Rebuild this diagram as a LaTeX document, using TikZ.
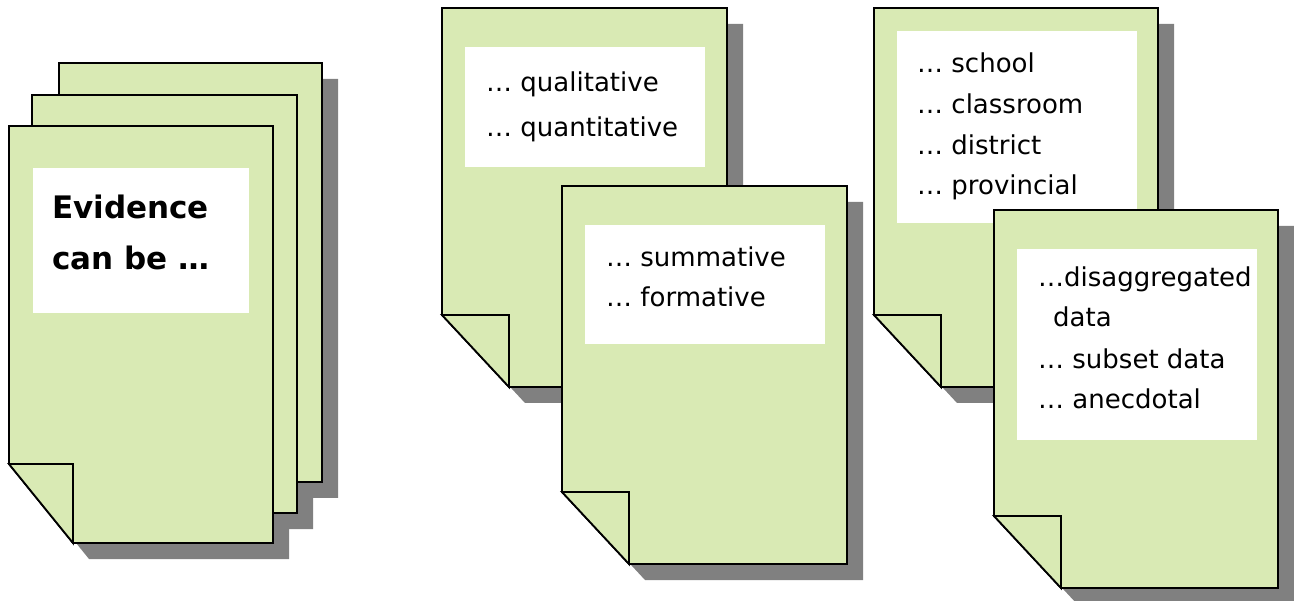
\documentclass[tikz,border=0pt]{standalone}
\usepackage{fontspec}
\setmainfont{DejaVu Sans}
\definecolor{pagegreen}{HTML}{D9EAB4}
\definecolor{shadowgray}{HTML}{808080}
\tikzset{
  pagestyle/.style={fill=pagegreen, draw=black, line width=1.8pt, line join=miter},
  shadowstyle/.style={fill=shadowgray},
  whitebox/.style={fill=white},
  itemtext/.style={anchor=base west, inner sep=0pt, font=\fontsize{26}{30}\selectfont},
  titletext/.style={anchor=base west, inner sep=0pt, font=\fontsize{31}{36}\selectfont\bfseries},
}
% #1=L #2=T #3=R #4=B #5=fold x #6=fold y
\newcommand{\docshadow}[6]{%
  \begin{scope}[shift={(16,16)}]
    \fill[shadowstyle] (#1,#2) -- (#3,#2) -- (#3,#4) -- (#5,#4) -- (#1,#6) -- cycle;
  \end{scope}}
\newcommand{\docpage}[6]{%
  \filldraw[pagestyle] (#1,#2) -- (#3,#2) -- (#3,#4) -- (#5,#4) -- (#1,#6) -- cycle;
  \filldraw[pagestyle] (#1,#6) -- (#5,#6) -- (#5,#4) -- cycle;}
\begin{document}
\begin{tikzpicture}[x=1pt,y=-1pt]
\useasboundingbox (0,0) rectangle (1294,601);

% ---------- left stack (one shape, one shadow) ----------
\docshadow{59}{63}{322}{482}{123}{403}
\docshadow{32}{95}{297}{513}{96}{434}
\docshadow{9}{126}{273}{543}{73}{464}
\docpage{59}{63}{322}{482}{123}{403}
\docpage{32}{95}{297}{513}{96}{434}
\docpage{9}{126}{273}{543}{73}{464}
\fill[whitebox] (33,168) rectangle (249,313);
\node[titletext] (ev1) at (52,219) {Evidence};
\node[titletext] (ev2) at (52,270) {can be …};

% ---------- middle group ----------
\docshadow{442}{8}{727}{387}{509}{315}
\docpage{442}{8}{727}{387}{509}{315}
\fill[whitebox] (465,47) rectangle (705,167);
\node[itemtext] (qa) at (486,92) {… qualitative};
\node[itemtext] (qb) at (486,137) {… quantitative};

\docshadow{562}{186}{847}{564}{629}{492}
\docpage{562}{186}{847}{564}{629}{492}
\fill[whitebox] (585,225) rectangle (825,344);
\node[itemtext] (sa) at (606,267) {… summative};
\node[itemtext] (sb) at (606,307) {… formative};

% ---------- right group ----------
\docshadow{874}{8}{1158}{387}{941}{315}
\docpage{874}{8}{1158}{387}{941}{315}
\fill[whitebox] (897,31) rectangle (1137,223);
\node[itemtext] (la) at (917,73) {… school};
\node[itemtext] (lb) at (917,114) {… classroom};
\node[itemtext] (lc) at (917,155) {… district};
\node[itemtext] (ld) at (917,195) {… provincial};

\docshadow{994}{210}{1278}{588}{1061}{516}
\docpage{994}{210}{1278}{588}{1061}{516}
\fill[whitebox] (1017,249) rectangle (1257,440);
\node[itemtext] (da) at (1038,287) {…disaggregated};
\node[itemtext] (db) at (1053,327) {data};
\node[itemtext] (dc) at (1038,369) {… subset data};
\node[itemtext] (dd) at (1038,409) {… anecdotal};
\end{tikzpicture}
\end{document}
